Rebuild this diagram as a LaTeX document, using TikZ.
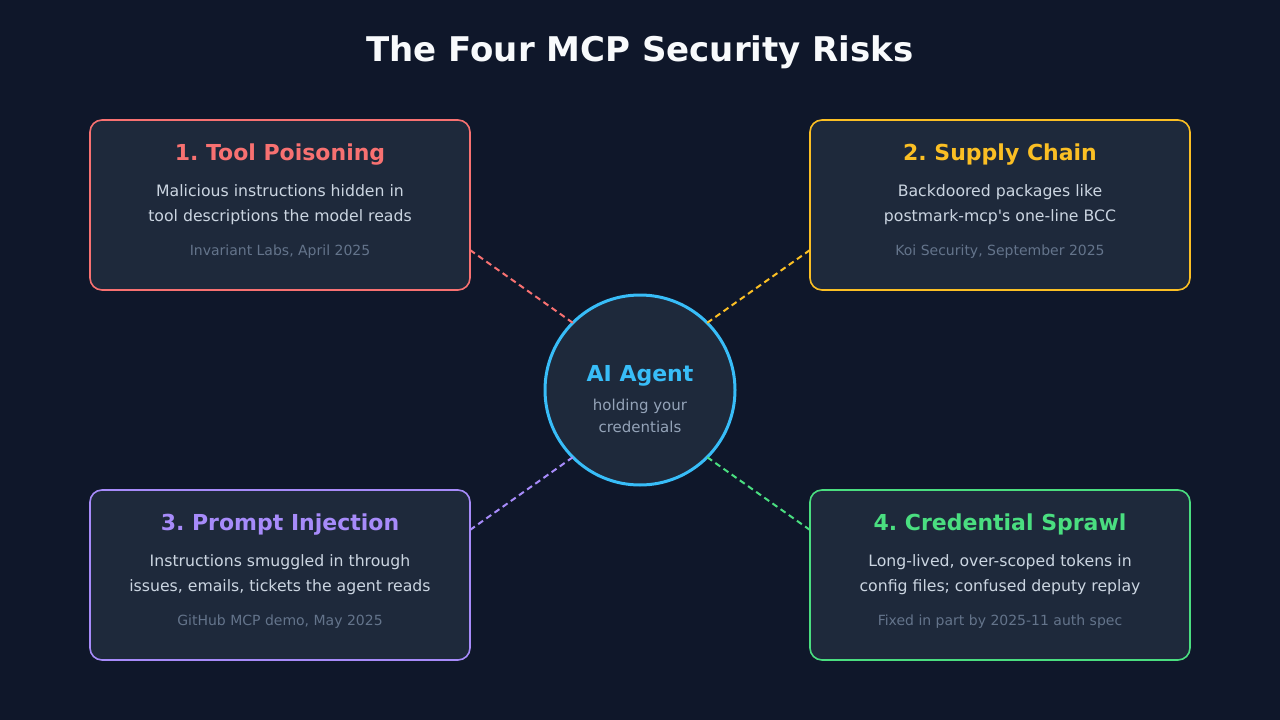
\documentclass[tikz,border=0pt]{standalone}
\usepackage{fontspec}
\setmainfont{DejaVu Sans}
\usetikzlibrary{calc}
\definecolor{bg}{HTML}{0F172A}
\definecolor{panel}{HTML}{1E293B}
\definecolor{cred}{HTML}{F87171}
\definecolor{cyel}{HTML}{FBBF24}
\definecolor{cpur}{HTML}{A78BFA}
\definecolor{cgrn}{HTML}{4ADE80}
\definecolor{cblu}{HTML}{38BDF8}
\definecolor{bodyc}{HTML}{CBD5E1}
\definecolor{notec}{HTML}{64748B}
\definecolor{subc}{HTML}{94A3B8}
\definecolor{titlec}{HTML}{F8FAFC}
\frenchspacing
\begin{document}
\begin{tikzpicture}[x=1pt,y=-1pt,
  riskbox/.style={draw=#1, line width=1.6pt, fill=panel, rounded corners=12pt,
    minimum width=380pt, minimum height=170pt, anchor=north west, inner sep=0pt, outer sep=0pt},
  boxtitle/.style={text=#1, font=\fontsize{22}{26}\selectfont\bfseries, anchor=base, inner sep=0pt},
  bodytext/.style={text=bodyc, font=\fontsize{15.7}{18}\selectfont, anchor=base, inner sep=0pt},
  notetext/.style={text=notec, font=\fontsize{14}{16}\selectfont, anchor=base, inner sep=0pt},
  link/.style={draw=#1, line width=2pt, dash pattern=on 6pt off 4pt}]
\useasboundingbox[fill=bg] (0,0) rectangle (1280,720);

\node[text=titlec, font=\fontsize{34}{40}\selectfont\bfseries, anchor=base, inner sep=0pt] (title) at (640,61) {The Four MCP Security Risks};

% boxes
\node[riskbox=cred] (b1) at (90,120) {};
\node[riskbox=cyel] (b2) at (810,120) {};
\node[riskbox=cpur] (b3) at (90,490) {};
\node[riskbox=cgrn] (b4) at (810,490) {};

% agent
\node[circle, draw=cblu, line width=3pt, fill=panel, minimum size=190pt, inner sep=0pt, outer sep=0pt] (agent) at (640,390) {};
\node[text=cblu, font=\fontsize{22}{26}\selectfont\bfseries, anchor=base, inner sep=0pt] (agentt) at (640,381) {AI Agent};
\node[text=subc, font=\fontsize{15}{18}\selectfont, anchor=base, inner sep=0pt] (agents1) at (640,410.5) {holding your};
\node[text=subc, font=\fontsize{15}{18}\selectfont, anchor=base, inner sep=0pt] (agents2) at (640,432) {credentials};

% connectors
\coordinate (p1) at ($(b1.south east)+(0,-40)$);
\coordinate (p2) at ($(b2.south west)+(0,-40)$);
\coordinate (p3) at ($(b3.north east)+(0,40)$);
\coordinate (p4) at ($(b4.north west)+(0,40)$);
\draw[link=cred] (p1) -- (agent.135);
\draw[link=cyel] (p2) -- (agent.45);
\draw[link=cpur] (p3) -- (agent.225);
\draw[link=cgrn] (p4) -- (agent.315);

% box 1
\node[boxtitle=cred] (t1) at (280,160) {1. Tool Poisoning};
\node[bodytext] (d1a) at (280,196) {Malicious instructions hidden in};
\node[bodytext] (d1b) at (280,221) {tool descriptions the model reads};
\node[notetext] (n1) at (280,255) {Invariant Labs, April 2025};

% box 2
\node[boxtitle=cyel] (t2) at (1000,160) {2. Supply Chain};
\node[bodytext] (d2a) at (1000,196) {Backdoored packages like};
\node[bodytext] (d2b) at (1000,221) {postmark-mcp\textquotesingle s one-line BCC};
\node[notetext] (n2) at (1000,255) {Koi Security, September 2025};

% box 3
\node[boxtitle=cpur] (t3) at (280,530) {3. Prompt Injection};
\node[bodytext] (d3a) at (280,566) {Instructions smuggled in through};
\node[bodytext] (d3b) at (280,591) {issues, emails, tickets the agent reads};
\node[notetext] (n3) at (280,625) {GitHub MCP demo, May 2025};

% box 4
\node[boxtitle=cgrn] (t4) at (1000,530) {4. Credential Sprawl};
\node[bodytext] (d4a) at (1000,566) {Long-lived, over-scoped tokens in};
\node[bodytext] (d4b) at (1000,591) {config files; confused deputy replay};
\node[notetext] (n4) at (1000,625) {Fixed in part by 2025-11 auth spec};
\end{tikzpicture}
\end{document}
